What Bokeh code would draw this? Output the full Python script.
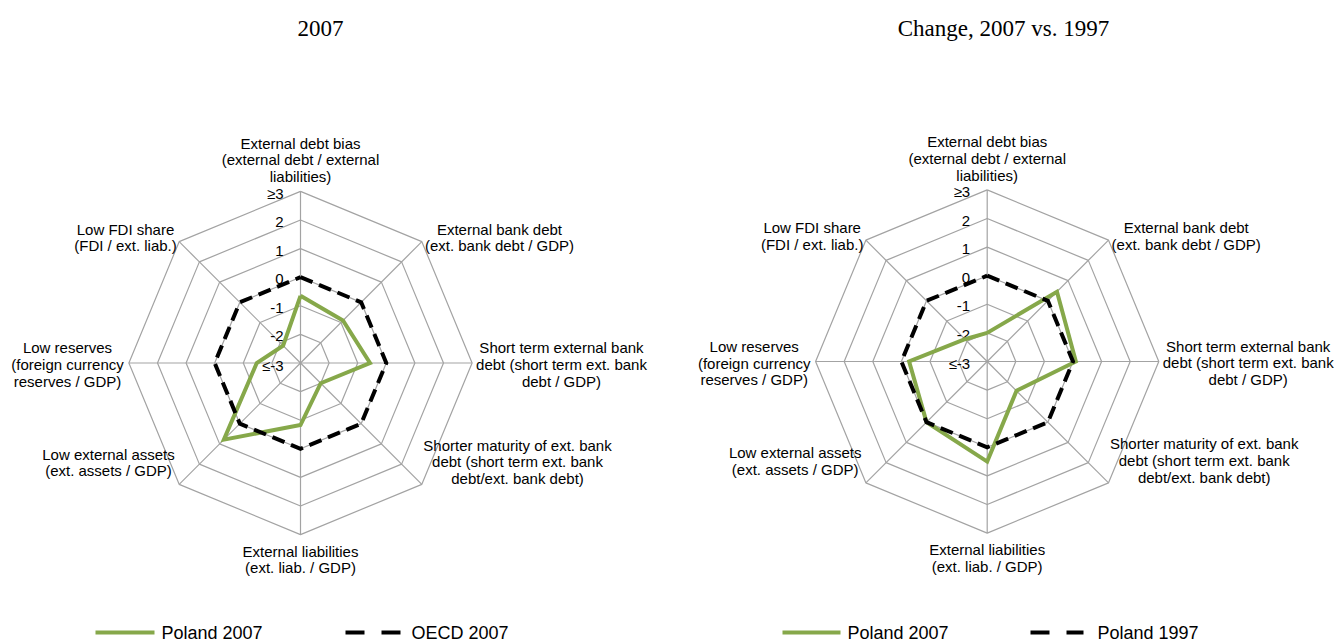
import math
from bokeh.plotting import figure
from bokeh.models import Range1d
from bokeh.core.properties import value
from bokeh.embed import file_html
from bokeh.resources import INLINE

# ---------------- data ----------------
categories = [
    "External debt bias\n(external debt / external\nliabilities)",
    "External bank debt\n(ext. bank debt / GDP)",
    "Short term external bank\ndebt (short term ext. bank\ndebt / GDP)",
    "Shorter maturity of ext. bank\ndebt (short term ext. bank\ndebt/ext. bank debt)",
    "External liabilities\n(ext. liab. / GDP)",
    "Low external assets\n(ext. assets / GDP)",
    "Low reserves\n(foreign currency\nreserves / GDP)",
    "Low FDI share\n(FDI / ext. liab.)",
]
ring_values = [-2, -1, 0, 1, 2, 3]
tick_values = [3, 2, 1, 0, -1, -2, -3]
tick_labels = ["\u22653", "2", "1", "0", "-1", "-2", "\u2264-3"]

poland_2007 = [-0.65, -0.9, -0.57, -2.0, -0.83, 0.79, -1.47, -2.14]
oecd_2007 = [0, 0, 0, 0, 0, 0, 0, 0]

change_poland_2007 = [-2.0, 0.45, 0.1, -1.55, 0.5, 0.0, -0.27, -1.9]
change_poland_1997 = [0, 0, 0, 0, 0, 0, 0, 0]

titles = ["2007", "Change, 2007 vs. 1997"]
legend_left = ["Poland 2007", "OECD 2007"]
legend_right = ["Poland 2007", "Poland 1997"]

# ---------------- layout / style ----------------
W, H = 1334, 641
SCALE = 28.6          # px per unit
VMIN = -3
GREEN = "#86A84A"
GRID = "#a3a3a3"
SANS = value("Liberation Sans")
SERIF = value("Liberation Serif")

# label block offsets (x centre, y of first line centre) relative to chart centre
label_offsets = [(0, -220), (199, -134), (261, -15.5), (217, 82),
                 (0, 188), (-192, 91), (-233, -15.3), (-175, -134)]

p = figure(width=W, height=H, x_range=Range1d(0, W), y_range=Range1d(H, 0),
           output_backend="svg", toolbar_location=None, min_border=0,
           x_axis_location=None, y_axis_location=None)
p.grid.visible = False
p.outline_line_color = None
p.background_fill_color = "white"

angles = [math.radians(90 - 45 * k) for k in range(8)]


def pts(cx, cy, vals):
    xs, ys = [], []
    for v, a in zip(vals, angles):
        r = (v - VMIN) * SCALE
        xs.append(cx + r * math.cos(a))
        ys.append(cy - r * math.sin(a))
    xs.append(xs[0]); ys.append(ys[0])
    return xs, ys


def radar(cx, cy, title, title_x, series):
    # rings
    for rv in ring_values:
        xs, ys = pts(cx, cy, [rv] * 8)
        p.line(xs, ys, line_color=GRID, line_width=1.2)
    # spokes
    xo, yo = pts(cx, cy, [3] * 8)
    p.segment(x0=[cx] * 8, y0=[cy] * 8, x1=xo[:8], y1=yo[:8],
              line_color=GRID, line_width=1.2)
    # tick labels
    p.text(x=[cx - 17] * len(tick_values),
           y=[cy - (t - VMIN) * SCALE + 2 for t in tick_values],
           text=tick_labels, text_font=SANS, text_font_size="15px",
           text_align="right", text_baseline="middle", text_color="black")
    # category labels
    p.text(x=[cx + o[0] for o in label_offsets],
           y=[cy + o[1] - 8.5 for o in label_offsets],
           text=categories, text_font=SANS, text_font_size="15px",
           text_align="center", text_baseline="top", text_line_height=0.99,
           text_color="black")
    # series
    for vals, color, dash in series:
        xs, ys = pts(cx, cy, vals)
        p.line(xs, ys, line_color=color, line_width=4, line_join="miter",
               line_dash=dash)
    # title
    p.text(x=[title_x], y=[28], text=[title], text_font=SERIF,
           text_font_size="23px", text_align="center", text_baseline="middle",
           text_color="black")


def legend(items, y):
    for (x0, x1, tx, label, color, dash) in items:
        p.line([x0, x1], [y, y], line_color=color, line_width=4, line_dash=dash)
        p.text(x=[tx], y=[y], text=[label], text_font=SANS, text_font_size="18px",
               text_align="left", text_baseline="middle", text_color="black")


radar(300, 362.5, titles[0], 320,
      [(poland_2007, GREEN, "solid"), (oecd_2007, "black", "13 7")])
radar(986.7, 361, titles[1], 1003,
      [(change_poland_2007, GREEN, "solid"), (change_poland_1997, "black", "13 7")])

LY = 632
legend([(95, 154, 161, legend_left[0], GREEN, "solid"),
        (345, 401, 411, legend_left[1], "black", "19 17")], LY)
legend([(782, 840, 847, legend_right[0], GREEN, "solid"),
        (1030, 1083, 1097, legend_right[1], "black", "19 17")], LY)

open("out.html", "w").write(file_html(p, INLINE))
